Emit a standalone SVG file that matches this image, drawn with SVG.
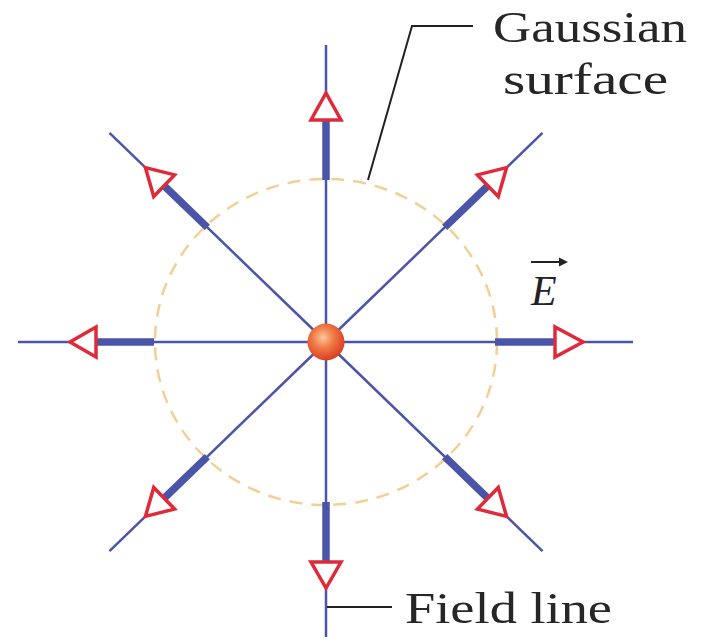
<svg xmlns="http://www.w3.org/2000/svg" width="705" height="642" viewBox="0 0 705 642">
<style>
.thin{stroke:#4b55a8;stroke-width:2.5;fill:none}
.thick{stroke:#4b55a8;stroke-width:7.5;fill:none}
.tri{fill:#ffffff;stroke:#df2a3a;stroke-width:3.5;stroke-linejoin:miter}
.lead{stroke:#222;stroke-width:2;fill:none}
.lbl{font-family:"Liberation Serif",serif;font-size:45px;fill:#262626}
</style>
<defs>
<radialGradient id="ball" cx="0.42" cy="0.38" r="0.65">
<stop offset="0" stop-color="#fbc59a"/>
<stop offset="0.45" stop-color="#f07a45"/>
<stop offset="1" stop-color="#d9381e"/>
</radialGradient>
</defs>
<rect width="705" height="642" fill="#ffffff"/>
<g id="gaussian-surface">
<ellipse cx="326" cy="342" rx="171" ry="163" fill="none" stroke="#f3cf95" stroke-width="2.5" stroke-dasharray="13 9"/>
</g>
<g id="connectors">
<g transform="translate(326 342) rotate(0)"><line class="thin" x1="0" y1="0" x2="307" y2="0"/><line class="thick" x1="169" y1="0" x2="229" y2="0"/><polygon class="tri" points="229,-15 229,15 257,0"/></g>
<g transform="translate(326 342) rotate(180)"><line class="thin" x1="0" y1="0" x2="308" y2="0"/><line class="thick" x1="172" y1="0" x2="230" y2="0"/><polygon class="tri" points="230,-15 230,15 256,0"/></g>
<g transform="translate(326 342) rotate(-90)"><line class="thin" x1="0" y1="0" x2="297" y2="0"/><line class="thick" x1="162" y1="0" x2="222" y2="0"/><polygon class="tri" points="222,-15 222,15 249,0"/></g>
<g transform="translate(326 342) rotate(90)"><line class="thin" x1="0" y1="0" x2="295" y2="0"/><line class="thick" x1="160" y1="0" x2="220" y2="0"/><polygon class="tri" points="220,-15 220,15 246,0"/></g>
<g transform="translate(326 342) rotate(-44)"><line class="thin" x1="0" y1="0" x2="301" y2="0"/><line class="thick" x1="165" y1="0" x2="225" y2="0"/><polygon class="tri" points="225,-15 225,15 251,0"/></g>
<g transform="translate(326 342) rotate(44)"><line class="thin" x1="0" y1="0" x2="301" y2="0"/><line class="thick" x1="165" y1="0" x2="225" y2="0"/><polygon class="tri" points="225,-15 225,15 251,0"/></g>
<g transform="translate(326 342) rotate(-136)"><line class="thin" x1="0" y1="0" x2="301" y2="0"/><line class="thick" x1="165" y1="0" x2="225" y2="0"/><polygon class="tri" points="225,-15 225,15 251,0"/></g>
<g transform="translate(326 342) rotate(136)"><line class="thin" x1="0" y1="0" x2="301" y2="0"/><line class="thick" x1="165" y1="0" x2="225" y2="0"/><polygon class="tri" points="225,-15 225,15 251,0"/></g>
<polyline class="lead" points="368,180 412,26 473,26"/>
<polyline class="lead" points="327,607 392,607"/>
</g>
<g id="charge">
<circle cx="326" cy="342" r="18.5" fill="url(#ball)"/>
</g>
<g id="label-gaussian">
<text class="lbl" x="493" y="42" textLength="194" lengthAdjust="spacingAndGlyphs">Gaussian</text>
<text class="lbl" x="503" y="94" textLength="165" lengthAdjust="spacingAndGlyphs">surface</text>
</g>
<g id="label-E">
<line x1="531" y1="262" x2="563" y2="262" stroke="#222" stroke-width="2"/>
<polygon points="568,262 559,257.5 559,266.5" fill="#222"/>
<text x="531" y="305" font-family="Liberation Serif,serif" font-style="italic" font-size="42" fill="#222">E</text>
</g>
<g id="label-field">
<text class="lbl" x="405" y="623" textLength="207" lengthAdjust="spacingAndGlyphs">Field line</text>
</g>
</svg>
